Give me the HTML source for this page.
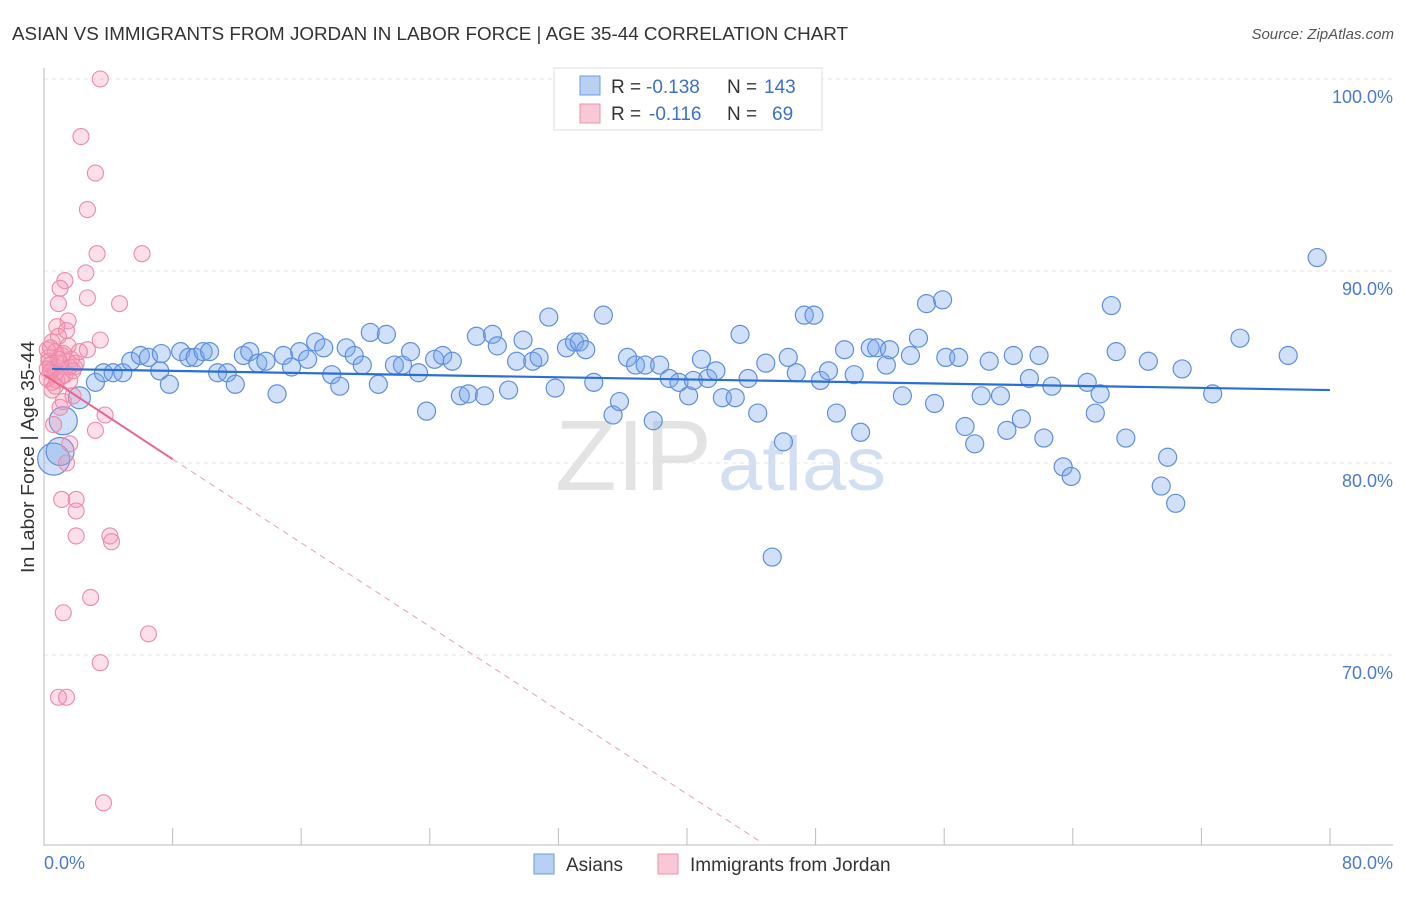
<!DOCTYPE html>
<html><head><meta charset="utf-8"><style>
body{margin:0;background:#fff;font-family:"Liberation Sans",sans-serif}
svg text{font-family:"Liberation Sans",sans-serif}
</style></head><body>
<svg id="chart" width="1406" height="892" xmlns="http://www.w3.org/2000/svg">
<text x="12" y="40" font-size="18" fill="#333" textLength="836" lengthAdjust="spacingAndGlyphs">ASIAN VS IMMIGRANTS FROM JORDAN IN LABOR FORCE | AGE 35-44 CORRELATION CHART</text>
<text x="1394" y="39" font-size="15" fill="#555" font-style="italic" text-anchor="end">Source: ZipAtlas.com</text>
<g>
<text x="555" y="490" font-size="100" fill="#ddd" font-family="Liberation Serif,serif" opacity="0.8" textLength="157" lengthAdjust="spacingAndGlyphs">ZIP</text>
<text x="718" y="490" font-size="76" fill="#c8d8f0" opacity="0.8" textLength="168" lengthAdjust="spacingAndGlyphs">atlas</text></g>
<g id="grid"></g><g id="axes"></g><g id="pts"></g><g id="lines"></g>
<text transform="translate(34,457) rotate(-90)" font-size="18" fill="#333" text-anchor="middle" textLength="232" lengthAdjust="spacingAndGlyphs">In Labor Force | Age 35-44</text>
<text x="44" y="869" font-size="18" fill="#4a7bd0">0.0%</text>
<text x="1393" y="869" font-size="18" fill="#4a7bd0" text-anchor="end">80.0%</text>
<g>
<rect x="554" y="68" width="268" height="62" fill="#fff" stroke="#ddd"/>
<rect x="580" y="76" width="20" height="19" fill="#b8d0f2" stroke="#6a9be0"/>
<rect x="580" y="104" width="20" height="19" fill="#f9c8d6" stroke="#ee8fab"/>
<text x="611" y="93" font-size="19" fill="#333">R =</text>
<text x="646" y="93" font-size="19" fill="#3a70d0">-0.138</text>
<text x="727" y="93" font-size="19" fill="#333">N =</text>
<text x="764" y="93" font-size="19" fill="#3a70d0">143</text>
<text x="611" y="120" font-size="19" fill="#333">R =</text>
<text x="649" y="120" font-size="19" fill="#3a70d0">-0.116</text>
<text x="727" y="120" font-size="19" fill="#333">N =</text>
<text x="772" y="120" font-size="19" fill="#3a70d0">69</text>
</g>
<g>
<rect x="534" y="854" width="20" height="20" fill="#b8d0f2" stroke="#6a9be0"/>
<text x="566" y="871" font-size="19" fill="#333">Asians</text>
<rect x="658" y="854" width="20" height="20" fill="#f9c8d6" stroke="#ee8fab"/>
<text x="690" y="871" font-size="19" fill="#333">Immigrants from Jordan</text>
</g>
</svg>
<script>
const yTicks=[100,90,80,70];
const xTicks=[0,8,16,24,32,40,48,56,64,72,80];
const asianX=[0.6,1.0,1.2,2.2,3.2,3.7,4.3,4.9,5.4,6.0,6.5,7.2,7.3,7.8,8.5,9.0,9.4,9.9,10.3,10.8,11.4,11.9,12.4,12.8,13.3,13.8,14.5,14.9,15.4,15.9,16.4,16.9,17.4,17.9,18.4,18.8,19.3,19.8,20.3,20.8,21.3,21.8,22.3,22.8,23.3,23.8,24.3,24.8,25.4,25.9,26.4,26.9,27.4,27.9,28.2,28.9,29.4,29.8,30.4,30.8,31.4,31.8,32.5,33.0,33.3,33.7,34.2,34.8,35.4,35.8,36.3,36.8,37.4,37.9,38.3,38.9,39.5,40.1,40.4,40.9,41.3,41.8,42.2,43.0,43.3,43.8,44.4,44.9,45.3,46.0,46.3,46.8,47.3,47.9,48.3,48.8,49.3,49.8,50.4,50.8,51.4,51.8,52.4,52.6,53.4,53.9,54.4,54.9,55.4,55.9,56.1,56.9,57.3,57.9,58.3,58.8,59.5,59.9,60.3,60.8,61.3,61.9,62.2,62.7,63.4,63.9,64.9,65.4,65.7,66.4,66.7,67.3,68.7,69.5,69.9,70.4,70.8,72.7,74.4,77.4,79.2];
const asianY=[80.2,80.6,82.2,83.4,84.2,84.7,84.7,84.7,85.3,85.6,85.5,84.8,85.7,84.1,85.8,85.5,85.5,85.8,85.8,84.7,84.7,84.1,85.6,85.8,85.2,85.3,83.6,85.6,85.0,85.8,85.4,86.3,86.0,84.6,84.0,86.0,85.6,85.1,86.8,84.1,86.7,85.1,85.1,85.8,84.7,82.7,85.4,85.6,85.3,83.5,83.6,86.6,83.5,86.7,86.1,83.8,85.3,86.4,85.3,85.5,87.6,83.9,86.0,86.3,86.3,85.9,84.2,87.7,82.5,83.2,85.5,85.1,85.1,82.2,85.1,84.4,84.2,83.5,84.3,85.4,84.4,84.8,83.4,83.4,86.7,84.4,82.6,85.2,75.1,81.1,85.5,84.7,87.7,87.7,84.3,84.8,82.6,85.9,84.6,81.6,86.0,86.0,85.1,85.9,83.5,85.6,86.5,88.3,83.1,88.5,85.5,85.5,81.9,81.0,83.5,85.3,83.5,81.7,85.6,82.3,84.4,85.6,81.3,84.0,79.8,79.3,84.2,82.6,83.6,88.2,85.8,81.3,85.3,78.8,80.3,77.9,84.9,83.6,86.5,85.6,90.7];
const jordanX=[3.5,2.3,3.2,2.7,3.3,6.1,2.6,1.3,1.0,2.7,4.7,0.9,1.5,0.8,1.4,3.5,0.5,0.7,1.1,2.7,1.7,0.4,1.9,0.7,0.2,0.5,1.6,1.8,1.0,3.8,0.6,3.2,1.6,1.4,1.1,2.0,2.0,2.0,4.1,4.2,2.9,1.2,6.5,3.5,0.9,1.4,3.7,0.3,0.6,1.0,1.3,0.2,0.8,1.2,0.4,0.9,1.6,0.3,0.7,2.0,1.1,0.5,1.5,0.2,0.9,1.8,0.4,1.2,2.2];
const jordanY=[100,97.0,95.1,93.2,90.9,90.9,89.9,89.5,89.1,88.6,88.3,88.3,87.4,87.1,86.9,86.4,86.3,85.8,85.6,85.9,85.4,85.1,85.0,84.7,84.4,84.2,84.3,83.5,82.9,82.5,82.0,81.7,81.0,80.0,78.1,78.1,77.5,76.2,76.2,75.9,73.0,72.2,71.1,69.6,67.8,67.8,62.3,85.5,84.9,85.2,84.6,85.9,84.3,85.7,84.8,86.6,85.0,85.3,84.0,85.2,84.5,83.8,86.1,84.9,85.4,84.8,86.0,83.2,85.8];
const asianBig=[16,14,14,11];
const NS='http://www.w3.org/2000/svg';
const X=v=>44+v/80*1286, Y=v=>79+(100-v)*19.2;
function mk(tag,at,parent){const e=document.createElementNS(NS,tag);for(const k in at)e.setAttribute(k,at[k]);document.getElementById(parent).appendChild(e);return e;}
yTicks.forEach(t=>{const l=mk('line',{x1:44,x2:1393,y1:Y(t),y2:Y(t),stroke:'#e4e4e4','stroke-dasharray':'4,4'},'grid');


const tx=mk('text',{x:1393,y:Y(t)+24,'font-size':18,fill:'#4a7bd0','text-anchor':'end'},'grid');tx.textContent=t.toFixed(1)+'%';

});
const ax=mk('path',{d:'M44,68V845H1393',fill:'none',stroke:'#bbb'},'axes');


xTicks.forEach(t=>{const l=mk('line',{x1:X(t),x2:X(t),y1:828,y2:845,stroke:'#bbb'},'axes');

});
asianX.forEach((v,i)=>{const c=mk('circle',{cx:X(v),cy:Y(asianY[i]),r:i<4?asianBig[i]:9,fill:'rgba(120,165,235,0.35)',stroke:'#5f8fdc','stroke-width':1.2},'pts');

});
jordanX.forEach((v,i)=>{const c=mk('circle',{cx:X(v),cy:Y(jordanY[i]),r:8,fill:'rgba(245,150,180,0.3)',stroke:'#ec8aa8','stroke-width':1.1},'pts');

});
const bl=mk('line',{x1:X(0.5),y1:Y(84.9),x2:X(80),y2:Y(83.8),stroke:'#2a6fd6','stroke-width':2.2},'lines');


const pl=mk('line',{x1:X(0),y1:Y(84.6),x2:X(8),y2:Y(80.2),stroke:'#e8668e','stroke-width':2},'lines');


const pd=mk('line',{x1:X(8),y1:Y(80.2),x2:X(44.7),y2:Y(60.2),stroke:'#eca0b8','stroke-width':1,'stroke-dasharray':'6,5'},'lines');


</script>
</body></html>
